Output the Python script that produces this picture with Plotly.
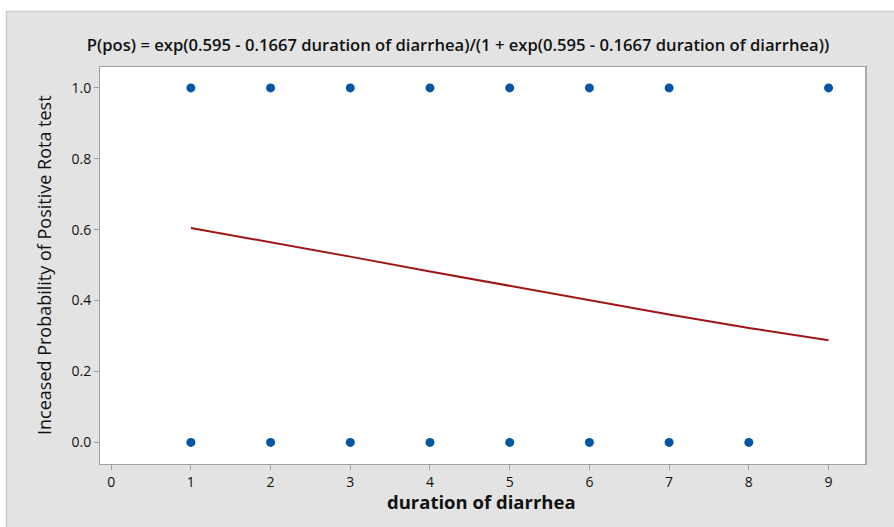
import plotly.graph_objects as go

# Data
x_pos = [1, 2, 3, 4, 5, 6, 7, 9]
y_pos = [1, 1, 1, 1, 1, 1, 1, 1]
x_neg = [1, 2, 3, 4, 5, 6, 7, 8]
y_neg = [0, 0, 0, 0, 0, 0, 0, 0]
fit_x = [1, 2, 3, 4, 5, 6, 7, 8, 9]
fit_y = [0.605, 0.565, 0.524, 0.482, 0.441, 0.400, 0.361, 0.323, 0.288]
x_ticks = [0, 1, 2, 3, 4, 5, 6, 7, 8, 9]
y_ticks = [0.0, 0.2, 0.4, 0.6, 0.8, 1.0]

title_text = "P(pos) = exp(0.595 - 0.1667 duration of diarrhea)/(1 + exp(0.595 - 0.1667 duration of diarrhea))"
font_family = "Open Sans, Noto Sans, DejaVu Sans, sans-serif"
blue = "#0256A6"

fig = go.Figure()
fig.add_trace(go.Scatter(x=x_pos, y=y_pos, mode="markers",
                         marker=dict(color=blue, size=9), showlegend=False))
fig.add_trace(go.Scatter(x=x_neg, y=y_neg, mode="markers",
                         marker=dict(color=blue, size=9), showlegend=False))
fig.add_trace(go.Scatter(x=fit_x, y=fit_y, mode="lines",
                         line=dict(color="#A01414", width=2), showlegend=False))

W, H = 894, 527
L, R, T, B = 100, 28, 67, 63
pw, ph = W - L - R, H - T - B

def px_x(px):
    return (px - L) / pw

def px_y(py):
    return (H - B - py) / ph

shapes = [
    # white strips outside the gray frame
    dict(type="rect", xref="paper", yref="paper", x0=px_x(-5), x1=px_x(6), y0=px_y(540), y1=px_y(-5),
         fillcolor="white", line=dict(width=0), layer="below"),
    dict(type="rect", xref="paper", yref="paper", x0=px_x(-5), x1=px_x(900), y0=px_y(11), y1=px_y(-5),
         fillcolor="white", line=dict(width=0), layer="below"),
    # frame borders
    dict(type="line", xref="paper", yref="paper", x0=px_x(6.5), x1=px_x(6.5), y0=px_y(540), y1=px_y(11),
         line=dict(color="#CDCDCD", width=1.5)),
    dict(type="line", xref="paper", yref="paper", x0=px_x(6), x1=px_x(900), y0=px_y(11.5), y1=px_y(11.5),
         line=dict(color="#CDCDCD", width=1.5)),
    # right shadow of the plot area
    dict(type="line", xref="paper", yref="paper", x0=1.0, x1=1.0, y0=0, y1=1,
         line=dict(color="#A8A8A8", width=2)),
]

annotations = [
    dict(text="Inceased Probability of Positive Rota test", xref="paper", yref="paper",
         x=px_x(44), y=px_y(265), xanchor="center", yanchor="middle", textangle=-90,
         showarrow=False, font=dict(family=font_family, size=18, color="#111111")),
    dict(text="duration of diarrhea", xref="paper", yref="paper",
         x=px_x(481), y=px_y(501), xanchor="center", yanchor="middle",
         showarrow=False, font=dict(family=font_family, size=18.5, color="#111111", weight=700)),
]

fig.update_layout(
    width=W, height=H,
    margin=dict(l=L, r=R, t=T, b=B),
    paper_bgcolor="#E3E3E3",
    plot_bgcolor="white",
    title=dict(text=title_text, x=458 / W, xref="container", xanchor="center",
               y=1 - 45 / H, yref="container", yanchor="middle",
               font=dict(family=font_family, size=16.6, color="#111111", weight=600)),
    shapes=shapes,
    annotations=annotations,
    xaxis=dict(range=[-0.14, 9.47], tickvals=x_ticks, ticktext=[str(v) for v in x_ticks],
               ticks="outside", ticklen=5, tickcolor="#A0A0A0", showgrid=False, zeroline=False,
               showline=True, linecolor="#A0A0A0", linewidth=1, mirror=True,
               tickfont=dict(family=font_family, size=14, color="#111111")),
    yaxis=dict(range=[-0.061, 1.059], tickvals=y_ticks, ticktext=[f"{v:.1f}" for v in y_ticks],
               ticks="outside", ticklen=5, tickcolor="#A0A0A0", showgrid=False, zeroline=False,
               showline=True, linecolor="#A0A0A0", linewidth=1, mirror=True,
               tickfont=dict(family=font_family, size=14, color="#111111")),
)

fig.write_html("out.html", config={"displayModeBar": False},
               post_script="document.body.style.margin='0';document.body.style.overflow='hidden';")
